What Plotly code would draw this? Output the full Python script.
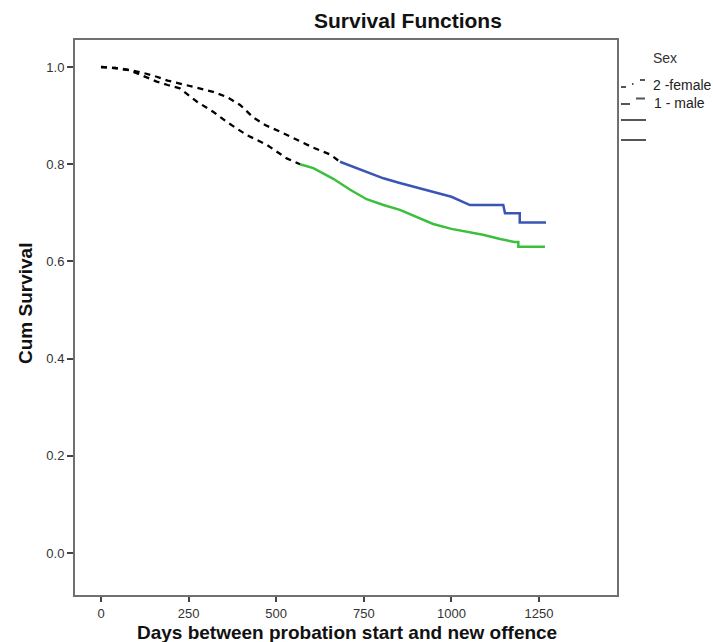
import plotly.graph_objects as go

# ---- data ----
female_t = [0, 40, 83, 120, 159, 190, 225, 270, 320, 360, 397, 435, 470, 511, 560, 606, 654, 682,
            720, 760, 806, 850, 900, 948, 1000, 1053, 1148, 1153, 1195, 1195, 1270]
female_s = [1.0, 0.998, 0.994, 0.988, 0.980, 0.972, 0.966, 0.958, 0.949, 0.938, 0.922, 0.896, 0.880,
            0.867, 0.850, 0.834, 0.820, 0.805, 0.795, 0.784, 0.771, 0.762, 0.752, 0.743, 0.733, 0.716,
            0.716, 0.699, 0.699, 0.680, 0.680]

male_t = [0, 40, 83, 120, 159, 190, 225, 273, 320, 359, 416, 473, 530, 568, 606, 663, 710, 758, 806,
          853, 900, 948, 1000, 1044, 1090, 1139, 1180, 1191, 1191, 1267]
male_s = [1.0, 0.998, 0.993, 0.982, 0.970, 0.963, 0.956, 0.929, 0.908, 0.887, 0.860, 0.840, 0.812,
          0.800, 0.792, 0.770, 0.748, 0.728, 0.716, 0.706, 0.692, 0.677, 0.667, 0.661, 0.655, 0.646,
          0.640, 0.640, 0.630, 0.630]

female_dash_end = 682
male_dash_end = 545

x_ticks = [0, 250, 500, 750, 1000, 1250]
y_ticks = [0.0, 0.2, 0.4, 0.6, 0.8, 1.0]
y_tick_labels = ["0.0", "0.2", "0.4", "0.6", "0.8", "1.0"]

BLUE = "#3a55b4"
GREEN = "#3cbf3c"
FONT = "Liberation Sans, Arial, sans-serif"

fig = go.Figure()


def split(ts, ss, end):
    i = next(k for k, t in enumerate(ts) if t >= end)
    return ts[:i + 1], ss[:i + 1], ts[i:], ss[i:]


fd_t, fd_s, fc_t, fc_s = split(female_t, female_s, female_dash_end)
md_t, md_s, mc_t, mc_s = split(male_t, male_s, male_dash_end)

fig.add_trace(go.Scatter(x=fc_t, y=fc_s, mode="lines", line=dict(color=BLUE, width=2.5),
                         name="2 -female", showlegend=False))
fig.add_trace(go.Scatter(x=mc_t, y=mc_s, mode="lines", line=dict(color=GREEN, width=2.5),
                         name="1 - male", showlegend=False))
fig.add_trace(go.Scatter(x=fd_t, y=fd_s, mode="lines",
                         line=dict(color="black", width=2.3, dash="6px,5px"), showlegend=False))
fig.add_trace(go.Scatter(x=md_t, y=md_s, mode="lines",
                         line=dict(color="black", width=2.3, dash="6px,5px"), showlegend=False))

W, H = 713, 642
L, R, T, B = 75, 617, 40, 595


def px(s):
    return (s - L) / (R - L)


def py(s):
    return (B - s) / (B - T)


shapes = []
legend_lines = [
    (621, 626, 87), (632, 633.5, 84), (640, 645, 80),
    (621, 630, 104), (636, 645, 98.5),
    (621, 646, 120), (621, 646, 140),
]
for x0, x1, yy in legend_lines:
    shapes.append(dict(type="line", xref="paper", yref="paper", x0=px(x0), x1=px(x1),
                       y0=py(yy), y1=py(yy), line=dict(color="#555555", width=2)))

annotations = [
    dict(text="<b>Survival Functions</b>", xref="paper", yref="paper", x=px(408), y=py(21),
         showarrow=False, font=dict(family=FONT, size=21, color="#111111"),
         xanchor="center", yanchor="middle"),
    dict(text="<b>Days between probation start and new offence</b>", xref="paper",
         yref="paper", x=px(347), y=py(632), showarrow=False, borderpad=0,
         font=dict(family=FONT, size=19, color="#111111"), xanchor="center", yanchor="middle"),
    dict(text="<b>Cum Survival</b>", xref="paper", yref="paper", x=px(25), y=py(304),
         showarrow=False, textangle=-90, font=dict(family=FONT, size=19, color="#111111"),
         xanchor="center", yanchor="middle"),
    dict(text="Sex", xref="paper", yref="paper", x=px(665), y=py(58), showarrow=False,
         font=dict(family=FONT, size=14, color="#333333"), xanchor="center", yanchor="middle"),
    dict(text="2 -female", xref="paper", yref="paper", x=px(651), y=py(85), showarrow=False,
         font=dict(family=FONT, size=14, color="#222222"), xanchor="left", yanchor="middle"),
    dict(text="1 - male", xref="paper", yref="paper", x=px(652), y=py(103), showarrow=False,
         font=dict(family=FONT, size=14, color="#222222"), xanchor="left", yanchor="middle"),
]

fig.update_layout(
    width=W, height=H,
    margin=dict(l=L, r=W - R, t=T, b=H - B, autoexpand=False),
    paper_bgcolor="white", plot_bgcolor="white",
    font=dict(family=FONT, size=13, color="#333333"),
    shapes=shapes, annotations=annotations,
    showlegend=False,
)

fig.update_xaxes(range=[-74.2, 1472.6], tickvals=x_ticks, ticks="outside", ticklen=5,
                 tickcolor="#444444", tickwidth=1.5, showgrid=False, zeroline=False,
                 showline=True, linecolor="#707070", linewidth=2, mirror=True,
                 automargin=False, tickfont=dict(size=13, color="#333333"))
fig.update_yaxes(range=[-0.0864, 1.0556], tickvals=y_ticks, ticktext=y_tick_labels,
                 ticks="outside", ticklen=6, tickcolor="#444444", tickwidth=1.5,
                 showgrid=False, zeroline=False, showline=True, linecolor="#707070",
                 linewidth=2, mirror=True, automargin=False,
                 tickfont=dict(size=13, color="#333333"))

fig.write_html("out.html", config={"displayModeBar": False},
               post_script="document.body.style.margin='0px';")
